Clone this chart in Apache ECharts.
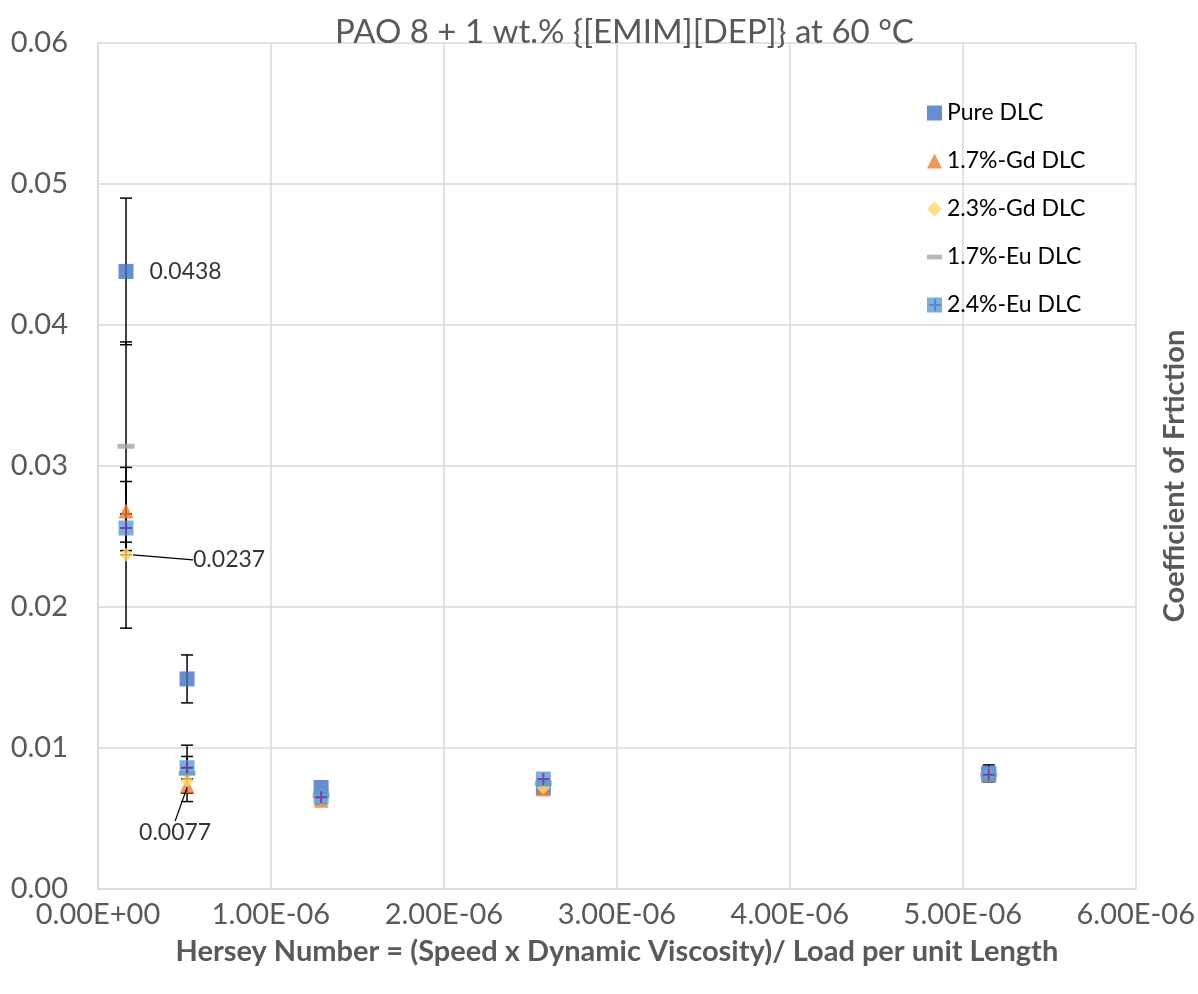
<!DOCTYPE html>
<html><head><meta charset="utf-8">
<script src="https://cdn.jsdelivr.net/npm/echarts@6/dist/echarts.min.js"></script>
<style>html,body{margin:0;padding:0;background:#fff}#c{width:1198px;height:994px}</style>
</head><body><div id="c"></div>
<script>
// Hersey numbers (x)
const hersey = [1.62e-7, 5.15e-7, 1.29e-6, 2.575e-6, 5.15e-6];
// Coefficient of friction per coating
const pureDLC = [0.0438, 0.0149, 0.0072, 0.0072, 0.0082];
const gd17 = [0.0268, 0.0073, 0.0063, 0.0071, 0.0081];
const gd23 = [0.0237, 0.0077, 0.0064, 0.0072, 0.0081];
const eu17 = [0.0314, 0.0082, 0.0066, 0.0075, 0.0081];
const eu24 = [0.0256, 0.0086, 0.0065, 0.0078, 0.0081];
// Error (+/-)
const pureErr = [0.0052, 0.0017, 0, 0, 0.0006];
const gd17Err = [0.0031, 0.0005, 0, 0, 0];
const gd23Err = [0.0052, 0.0009, 0, 0, 0];
const eu17Err = [0.0074, 0.0020, 0, 0, 0];
const eu24Err = [0.0010, 0.0008, 0, 0, 0];
const seriesNames = ['Pure DLC', '1.7%-Gd DLC', '2.3%-Gd DLC', '1.7%-Eu DLC', '2.4%-Eu DLC'];
const title = 'PAO 8 + 1 wt.% {[EMIM][DEP]} at 60 °C';
const xTitle = 'Hersey Number = (Speed x Dynamic Viscosity)/ Load per unit Length';
const yTitle = 'Coefficient of Frtiction';

const FONT = 'Lato';
const GREY = '#595959';

function sci(v) {
  if (Math.abs(v) < 1e-15) return '0.00E+00';
  const s = v.toExponential(2).split('e');
  let e = parseInt(s[1], 10);
  const sign = e < 0 ? '-' : '+';
  e = Math.abs(e);
  return s[0] + 'E' + sign + (e < 10 ? '0' + e : '' + e);
}

function pts(arr) { return hersey.map((x, i) => [x, arr[i]]); }
function errs(arr, err) { return hersey.map((x, i) => [x, arr[i] - err[i], arr[i] + err[i]]).filter((d, i) => err[i] > 0); }

const errData = [].concat(errs(pureDLC, pureErr), errs(gd17, gd17Err), errs(gd23, gd23Err), errs(eu17, eu17Err), errs(eu24, eu24Err));

const labelStyle = {color: '#000', fontFamily: FONT, fontSize: 23};

const pureData = pts(pureDLC).map((d, i) => i === 0 ? {value: d, label: Object.assign({show: true, position: 'right', distance: 16, formatter: () => pureDLC[0].toFixed(4)}, labelStyle)} : d);
const gd23Data = pts(gd23).map((d, i) => (i === 0 || i === 1) ? {value: d, label: Object.assign({show: true, position: 'right', distance: 4, formatter: () => gd23[i].toFixed(4)}, labelStyle)} : d);

const chart = echarts.init(document.getElementById('c'));
chart.setOption({
  animation: false,
  backgroundColor: '#fff',
  title: {text: title, left: 330, top: 11, textStyle: {color: GREY, fontFamily: FONT, fontSize: 33, fontWeight: 'normal'}},
  grid: {left: 98, right: 58, top: 43, bottom: 105},
  legend: {
    orient: 'vertical', left: 922, top: 96, itemWidth: 15, itemHeight: 15, itemGap: 24,
    textStyle: {color: '#000', fontFamily: FONT, fontSize: 23, lineHeight: 24},
    data: [
      {name: seriesNames[0], icon: 'rect'},
      {name: seriesNames[1], icon: 'triangle'},
      {name: seriesNames[2], icon: 'diamond'},
      {name: seriesNames[3], icon: 'path://M0,0h16v5h-16z'},
      {name: seriesNames[4], icon: 'rect'}
    ]
  },
  graphic: [{
    type: 'group', left: 929, top: 299,
    children: [
      {type: 'rect', shape: {x: 5, y: 0, width: 2, height: 12}, style: {fill: '#7030A0'}},
      {type: 'rect', shape: {x: 0, y: 5, width: 12, height: 2}, style: {fill: '#7030A0'}}
    ], z: 100
  }],
  xAxis: {
    type: 'value', min: 0, max: 6e-6, interval: 1e-6,
    name: xTitle, nameLocation: 'middle', nameGap: 48,
    nameTextStyle: {color: GREY, fontFamily: FONT, fontSize: 29, fontWeight: 'bold'},
    axisLine: {show: true, lineStyle: {color: '#d9d9d9', width: 1.5}},
    axisTick: {show: false},
    axisLabel: {color: GREY, fontFamily: FONT, fontSize: 29, margin: 11, formatter: sci},
    splitLine: {show: true, lineStyle: {color: '#d9d9d9', width: 1.5}}
  },
  yAxis: [{
    type: 'value', min: 0, max: 0.06, interval: 0.01,
    axisLine: {show: true, lineStyle: {color: '#d9d9d9', width: 1.5}},
    axisTick: {show: false},
    axisLabel: {color: GREY, fontFamily: FONT, fontSize: 29, margin: 30, formatter: v => v.toFixed(2)},
    splitLine: {show: true, lineStyle: {color: '#d9d9d9', width: 1.5}}
  }, {
    type: 'value', min: 0, max: 0.06, position: 'right',
    name: yTitle, nameLocation: 'middle', nameGap: 24, nameRotate: 90,
    nameTextStyle: {color: GREY, fontFamily: FONT, fontSize: 29, fontWeight: 'bold', padding: [0, 20, 0, 0]},
    axisLine: {show: false}, axisTick: {show: false}, axisLabel: {show: false}, splitLine: {show: false}
  }],
  series: [
    {
      type: 'custom', name: 'err', z: 1, silent: true,
      data: errData,
      renderItem: function (params, api) {
        const top = api.coord([api.value(0), api.value(2)]);
        const bot = api.coord([api.value(0), api.value(1)]);
        const w = 6;
        const st = {stroke: '#000', lineWidth: 1.5};
        return {type: 'group', children: [
          {type: 'line', shape: {x1: top[0], y1: top[1], x2: bot[0], y2: bot[1]}, style: st},
          {type: 'line', shape: {x1: top[0] - w, y1: top[1], x2: top[0] + w, y2: top[1]}, style: st},
          {type: 'line', shape: {x1: bot[0] - w, y1: bot[1], x2: bot[0] + w, y2: bot[1]}, style: st}
        ]};
      }
    },
    {type: 'scatter', name: seriesNames[0], z: 3, symbol: 'rect', symbolSize: 15, itemStyle: {color: '#4472C4'}, data: pureData},
    {type: 'scatter', name: seriesNames[1], z: 4, symbol: 'triangle', symbolSize: 15, itemStyle: {color: '#ED7D31'}, data: pts(gd17)},
    {type: 'scatter', name: seriesNames[2], z: 5, symbol: 'diamond', symbolSize: 14, itemStyle: {color: '#FFD966'}, data: gd23Data,
      labelLine: {show: true, lineStyle: {color: '#000', width: 1.2}},
      labelLayout: function (p) {
        if (p.dataIndex === 0) return {dx: 56, dy: 5};
        if (p.dataIndex === 1) return {dx: -59, dy: 52};
        return {};
      }
    },
    {type: 'scatter', name: seriesNames[3], z: 6, symbol: 'rect', symbolSize: [17, 5], itemStyle: {color: '#A5A5A5'}, data: pts(eu17)},
    {type: 'scatter', name: seriesNames[4], z: 7, symbol: 'rect', symbolSize: 15, itemStyle: {color: '#5B9BD5'}, data: pts(eu24)},
    {type: 'scatter', name: 'eu24plus', z: 8, silent: true, symbol: 'path://M5,0h2v12h-2z M0,5h12v2h-12z', symbolSize: 12, itemStyle: {color: '#7030A0'}, data: pts(eu24)}
  ]
});
</script></body></html>
